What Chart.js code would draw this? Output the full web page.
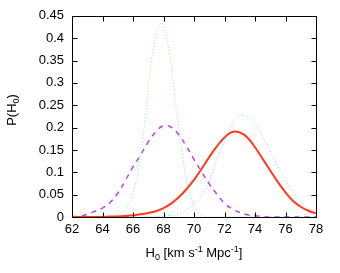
<!DOCTYPE html>
<html>
<head>
<meta charset="utf-8">
<script src="https://cdn.jsdelivr.net/npm/chart.js@4/dist/chart.umd.min.js"></script>
<style>
  html, body { margin: 0; padding: 0; background: #fff; }
  #wrap { width: 340px; height: 273px; position: relative; }
</style>
</head>
<body>
<div id="wrap"><canvas id="c"></canvas></div>
<script>
// Werte (H0 in km/s/Mpc, P(H0))
const X_TICKS = [62, 64, 66, 68, 70, 72, 74, 76, 78];
const Y_TICKS = [0, 0.05, 0.1, 0.15, 0.2, 0.25, 0.3, 0.35, 0.4, 0.45];

const H_HALF = [62, 62.5, 63, 63.5, 64, 64.5, 65, 65.5, 66, 66.5, 67, 67.5, 68, 68.5, 69, 69.5,
                70, 70.5, 71, 71.5, 72, 72.5, 73, 73.5, 74, 74.5, 75, 75.5, 76, 76.5, 77, 77.5, 78];

const RED_P = [0, 0, 0, 0, 0, 0.001, 0.001, 0.002, 0.004, 0.006, 0.009, 0.013, 0.020, 0.030, 0.044, 0.062,
               0.083, 0.108, 0.134, 0.158, 0.178, 0.190, 0.189, 0.178, 0.156, 0.130, 0.104, 0.078, 0.055, 0.036, 0.023, 0.014, 0.008];

const PURPLE_P = [0.001, 0.002, 0.006, 0.013, 0.020, 0.033, 0.053, 0.082, 0.112, 0.139, 0.168, 0.191, 0.204, 0.201, 0.184, 0.158,
                  0.129, 0.101, 0.074, 0.051, 0.031, 0.018, 0.010, 0.005, 0.003, 0.001, 0, 0, 0, 0, 0, 0, 0];

const CYAN_P = [0, 0, 0, 0, 0, 0, 0, 0, 0, 0, 0.001, 0.001, 0.002, 0.004, 0.006, 0.015,
                0.029, 0.050, 0.078, 0.131, 0.168, 0.207, 0.227, 0.225, 0.209, 0.180, 0.148, 0.114, 0.082, 0.056, 0.035, 0.020, 0.011];

const GREEN_H = [62, 63, 64, 64.5, 64.75, 65, 65.25, 65.5, 65.75, 66, 66.25, 66.5, 66.75, 67, 67.25, 67.5, 67.75, 67.85,
                 68, 68.25, 68.5, 68.75, 69, 69.25, 69.5, 69.75, 70, 70.25, 70.5, 71, 72, 74, 76, 78];
const GREEN_P = [0, 0, 0, 0, 0, 0.002, 0.007, 0.018, 0.033, 0.053, 0.088, 0.138, 0.205, 0.290, 0.360, 0.405, 0.430, 0.434,
                 0.428, 0.395, 0.341, 0.265, 0.198, 0.137, 0.083, 0.052, 0.027, 0.012, 0.004, 0, 0, 0, 0, 0];

const pts = (xs, ys) => xs.map((x, i) => ({ x, y: ys[i] }));

const FONT = '"Liberation Sans", Arial, sans-serif';

// Rahmen + nach innen zeigende Ticks auf allen vier Seiten (gnuplot-Stil)
const frameTicks = {
  id: 'frameTicks',
  afterDatasetsDraw(chart) {
    const { ctx, chartArea: a, scales } = chart;
    const L = Math.round(a.left) + 0.5, R = Math.round(a.right) + 0.5;
    const T = Math.round(a.top) + 0.5, B = Math.round(a.bottom) + 0.5;
    ctx.save();
    ctx.strokeStyle = '#000';
    ctx.lineWidth = 1;
    ctx.beginPath();
    const len = 5;
    X_TICKS.forEach(v => {
      const px = Math.round(scales.x.getPixelForValue(v)) + 0.5;
      ctx.moveTo(px, B); ctx.lineTo(px, B - len);
      ctx.moveTo(px, T); ctx.lineTo(px, T + len);
    });
    Y_TICKS.forEach(v => {
      const py = Math.round(scales.y.getPixelForValue(v)) + 0.5;
      ctx.moveTo(L, py); ctx.lineTo(L + len, py);
      ctx.moveTo(R, py); ctx.lineTo(R - len, py);
    });
    ctx.stroke();
    ctx.strokeRect(L, T, R - L, B - T);
    ctx.restore();
  }
};

// Achsentitel mit Index / Exponent
function drawRich(ctx, parts, cx, cy) {
  const big = 13, small = 9;
  let w = 0;
  parts.forEach(p => {
    ctx.font = (p.s ? small : big) + 'px ' + FONT;
    p.w = ctx.measureText(p.t).width;
    w += p.w;
  });
  let x = cx - w / 2;
  ctx.textBaseline = 'alphabetic';
  ctx.textAlign = 'left';
  parts.forEach(p => {
    ctx.font = (p.s ? small : big) + 'px ' + FONT;
    const dy = p.s === 'sub' ? 3 : p.s === 'sup' ? -5 : 0;
    ctx.fillText(p.t, x, cy + dy);
    x += p.w;
  });
}

const axisTitles = {
  id: 'axisTitles',
  afterDraw(chart) {
    const { ctx, chartArea: a } = chart;
    ctx.save();
    ctx.fillStyle = '#000';
    drawRich(ctx, [{ t: 'H' }, { t: '0', s: 'sub' }, { t: ' [km s' }, { t: '-1', s: 'sup' },
                   { t: ' Mpc' }, { t: '-1', s: 'sup' }, { t: ']' }], (a.left + a.right) / 2, 257);
    ctx.translate(16, 110);
    ctx.rotate(-Math.PI / 2);
    drawRich(ctx, [{ t: 'P(H' }, { t: '0', s: 'sub' }, { t: ')' }], 0, 0);
    ctx.restore();
  }
};

new Chart(document.getElementById('c'), {
  type: 'line',
  data: {
    datasets: [
      { data: pts(H_HALF, RED_P), borderColor: '#ff3a1e', borderWidth: 2 },
      { data: pts(H_HALF, PURPLE_P), borderColor: '#b845e8', borderWidth: 1.5, borderDash: [5, 5] },
      { data: pts(H_HALF, CYAN_P), borderColor: '#88d4ec', borderWidth: 1, borderDash: [1, 2] },
      { data: pts(GREEN_H, GREEN_P), borderColor: '#98ec9c', borderWidth: 1, borderDash: [1, 2] },
    ]
  },
  options: {
    responsive: true,
    maintainAspectRatio: false,
    animation: false,
    layout: { padding: { left: 0, top: 15, right: 24, bottom: 0 } },
    elements: {
      point: { radius: 0 },
      line: { tension: 0.4, fill: false }
    },
    scales: {
      x: {
        type: 'linear', min: 62, max: 78,
        grid: { display: false, drawTicks: false }, border: { display: false },
        afterFit(s) { s.height = 56; },
        afterBuildTicks(s) { s.ticks = X_TICKS.map(v => ({ value: v })); },
        ticks: { color: '#000', padding: 5, maxRotation: 0, font: { family: FONT, size: 13 },
                 callback: v => String(v) }
      },
      y: {
        min: 0, max: 0.45,
        grid: { display: false, drawTicks: false }, border: { display: false },
        afterFit(s) { s.width = 72; },
        afterBuildTicks(s) { s.ticks = Y_TICKS.map(v => ({ value: v })); },
        ticks: { color: '#000', padding: 8, font: { family: FONT, size: 13 },
                 callback: v => String(+v.toFixed(2)) }
      }
    },
    plugins: { legend: { display: false }, tooltip: { enabled: false } }
  },
  plugins: [frameTicks, axisTitles]
});
</script>
</body>
</html>
